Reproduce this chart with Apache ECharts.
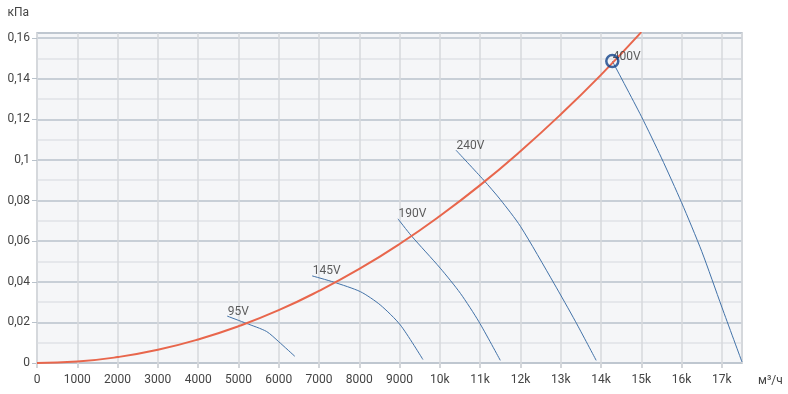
<!DOCTYPE html>
<html>
<head>
<meta charset="utf-8">
<script src="https://cdn.jsdelivr.net/npm/echarts@6/dist/echarts.min.js"></script>
<style>html,body{margin:0;padding:0;background:#fff}#c{width:788px;height:394px}</style>
</head>
<body>
<div id="c"></div>
<script>
// System (network) curve: [flow m3/h, pressure kPa]
var systemCurve = [[0,0],[1000,0.0007],[2000,0.0029],[3000,0.0065],[4000,0.0116],[5000,0.0181],[6000,0.026],[7000,0.0355],[8000,0.0463],[9000,0.0586],[10000,0.0724],[11000,0.0876],[12000,0.1043],[13000,0.1224],[14000,0.1419],[15000,0.1629]];
// Fan curves at different voltages
var fan95  = [[4720,0.0231],[5200,0.0195],[5700,0.0155],[6000,0.0105],[6400,0.0033]];
var fan145 = [[6830,0.0429],[7370,0.0398],[8030,0.0351],[8520,0.0286],[9020,0.0187],[9580,0.0017]];
var fan190 = [[8960,0.071],[9290,0.0627],[10010,0.0467],[10510,0.0343],[10970,0.0203],[11500,0.0013]];
var fan240 = [[10400,0.1048],[11090,0.090],[11500,0.0805],[12000,0.0673],[12830,0.0393],[13370,0.0203],[13880,0.0013]];
var fan400 = [[14280,0.1487],[15000,0.1215],[15500,0.1010],[16000,0.0790],[16500,0.0550],[17000,0.0275],[17500,0.0005]];
var fanNames = ['95V','145V','190V','240V','400V'];
var operatingPoint = [[14280,0.1487]];
var xMax = 17500, yMax = 0.1625;

var fans = [fan95, fan145, fan190, fan240, fan400];
var chart = echarts.init(document.getElementById('c'));
var series = [];
fans.forEach(function(f, i){
  series.push({type:'line', name:fanNames[i], data:f, smooth:0.25, showSymbol:false, symbol:'none',
    lineStyle:{color:'#4272a8', width:1}, z:3, silent:true});
});
series.push({type:'line', name:'system', data:systemCurve, smooth:true, showSymbol:false, symbol:'none',
  lineStyle:{color:'#e8664c', width:2}, z:4, silent:true});
series.push({type:'scatter', data:fans.map(function(f,i){return {value:f[0], name:fanNames[i]};}),
  symbolSize:1, itemStyle:{color:'rgba(0,0,0,0)'}, z:5, silent:true,
  label:{show:true, position:[1,-10], formatter:function(p){return p.name;}, color:'#333', fontSize:12, fontFamily:'Roboto'}});
series.push({type:'scatter', data:operatingPoint, symbol:'circle', symbolSize:12, z:6, silent:true,
  itemStyle:{color:'rgba(0,0,0,0)', borderColor:'#12428a', borderWidth:2.5}});

chart.setOption({
  animation:false,
  textStyle:{fontFamily:'Roboto'},
  grid:{left:37, right:46, top:33, bottom:31, show:true, backgroundColor:'#f5f6f8', borderColor:'#d3d6da', borderWidth:2},
  xAxis:{type:'value', min:0, max:xMax, interval:1000,
    name:'м³/ч', nameLocation:'end', nameGap:16, nameTextStyle:{color:'#444', fontSize:12, verticalAlign:'top', padding:[12,0,0,0]},
    axisLine:{show:false}, axisTick:{show:true, length:5, lineStyle:{color:'#d3d6da', width:2}},
    axisLabel:{color:'#444', fontSize:12, margin:11, showMaxLabel:false,
      formatter:function(v){return v>=10000 ? (v/1000)+'k' : String(v);}},
    splitLine:{show:true, lineStyle:{color:'#d6d9dd', width:1.5}}},
  yAxis:{type:'value', min:0, max:yMax, interval:0.02,
    name:'кПа', nameLocation:'end', nameGap:14, nameTextStyle:{color:'#444', fontSize:12, align:'right', padding:[0,8,0,0]},
    axisLine:{show:false}, axisTick:{show:true, length:5, lineStyle:{color:'#b9c2cb', width:1}},
    axisLabel:{color:'#444', fontSize:12, margin:7, showMaxLabel:false,
      formatter:function(v){return String(parseFloat(v.toFixed(4))).replace('.', ',');}},
    splitLine:{show:true, lineStyle:{color:'#b9c2cc', width:1.5}},
    minorTick:{show:false, splitNumber:2},
    minorSplitLine:{show:true, lineStyle:{color:'#dfe2e6', width:1.5}}},
  series:series
});
</script>
</body>
</html>
